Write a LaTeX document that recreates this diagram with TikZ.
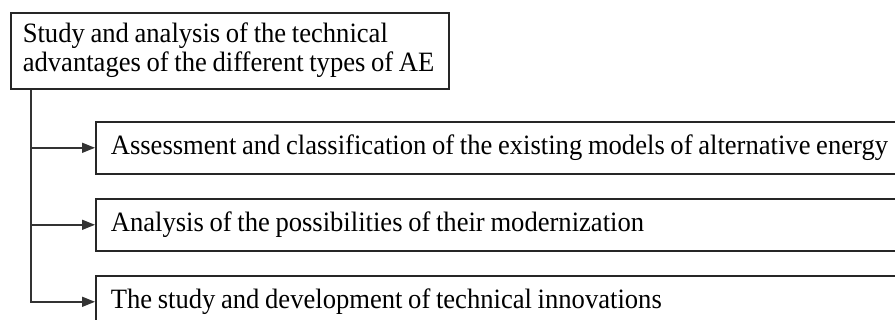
\documentclass[tikz,border=0pt]{standalone}
\usepackage{fontspec}
\setmainfont[WordSpace=0.85,FakeStretch=0.95]{Liberation Serif}
\usetikzlibrary{arrows.meta}
\begin{document}
\begin{tikzpicture}[x=1pt,y=1pt,
  box/.style={draw=black!85, line width=1.6pt, anchor=north west, inner ysep=0pt,
    font=\fontsize{28}{30}\selectfont},
  conn/.style={draw=black!80, line width=1.6pt, -{Triangle[length=13pt,width=10pt]}}]
\useasboundingbox (0,0) rectangle (895,-320);
\clip (0,0) rectangle (895,-320);
\node[box, inner xsep=12pt, minimum height=76pt] (top) at (10,-12)
  {\makebox[414pt][l]{\begin{tabular}{@{}l@{}}Study and analysis of the technical\\[-1pt]advantages of the different types of AE\end{tabular}}};
\node[box, inner xsep=15pt, minimum height=52pt] (b1) at (95,-121)
  {\makebox[830pt][l]{Assessment and classification of the existing models of alternative energy}};
\node[box, inner xsep=15pt, minimum height=52pt] (b2) at (95,-198)
  {\makebox[830pt][l]{Analysis of the possibilities of their modernization}};
\node[box, inner xsep=15pt, minimum height=52pt] (b3) at (95,-275)
  {\makebox[830pt][l]{The study and development of technical innovations}};
\coordinate (trunk) at ([xshift=21pt]top.south west);
\draw[draw=black!80, line width=1.6pt] (trunk) -- (trunk |- b3.west);
\draw[conn] (trunk |- b1.west) -- (b1.west);
\draw[conn] (trunk |- b2.west) -- (b2.west);
\draw[conn] (trunk) |- (b3.west);
\end{tikzpicture}
\end{document}
